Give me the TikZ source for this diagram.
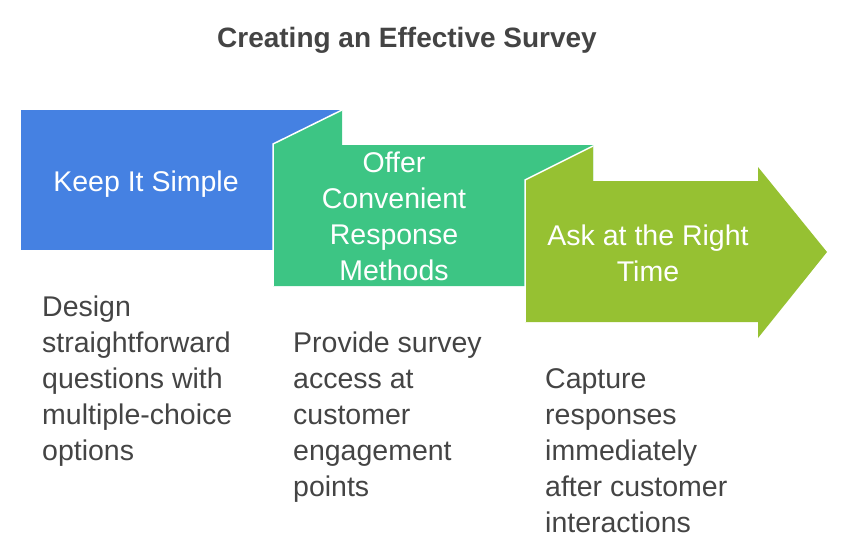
\documentclass[tikz,border=0pt]{standalone}
\usepackage{fontspec}
\setmainfont{Liberation Sans}
\usetikzlibrary{positioning}

\definecolor{simpleblue}{HTML}{4581E2}
\definecolor{offergreen}{HTML}{3DC584}
\definecolor{askolive}{HTML}{96C132}
\definecolor{desctext}{HTML}{444444}

\begin{document}
\begin{tikzpicture}[x=1pt,y=-1pt,
  fold/.style={draw=white,line width=1.5pt,line join=miter},
  steplabel/.style={text=white,font=\fontsize{28.5}{36}\selectfont,align=center,inner sep=0pt,anchor=base},
  desc/.style={text=desctext,font=\fontsize{28.5}{36}\selectfont,align=left,inner sep=0pt,anchor=base west}]

\useasboundingbox (0,0) rectangle (850,558);

% ============================================================
% TITLE
% ============================================================

\node[text=desctext,font=\fontsize{28}{34}\selectfont\bfseries,anchor=base] (title) at (407,47) {Creating an Effective Survey};

% ============================================================
% 1. KEEP IT SIMPLE (blue)
% ============================================================

\fill[simpleblue] (21,110) rectangle (342,250);
\node[steplabel] (simple) at (146,191) {Keep It Simple};

% ============================================================
% 2. OFFER CONVENIENT RESPONSE METHODS (green)
% ============================================================

\fill[offergreen] (273,286) -- (273,144) -- (342,110) -- (342,145)
  -- (593,145) -- (593,286) -- cycle;
\draw[fold] (273,286) -- (273,144) -- (342,110);
% base = last line
\node[steplabel] (offer) at (394,280) {Offer\\Convenient\\Response\\Methods};

% ============================================================
% 3. ASK AT THE RIGHT TIME (olive arrow)
% ============================================================

\fill[askolive] (525,322) -- (525,180) -- (593,146) -- (593,181)
  -- (758,181) -- (758,167) -- (827,252) -- (758,338) -- (758,322) -- cycle;
\draw[fold] (525,322) -- (525,180) -- (593,146);
\node[steplabel] (ask) at (648,281) {Ask at the Right\\Time};

% ============================================================
% DESCRIPTIONS (base = last line)
% ============================================================

\node[desc] (simpledesc) at (42,460) {Design\\straightforward\\questions with\\multiple-choice\\options};
\node[desc] (offerdesc) at (293,496) {Provide survey\\access at\\customer\\engagement\\points};
\node[desc] (askdesc) at (545,532) {Capture\\responses\\immediately\\after customer\\interactions};

\end{tikzpicture}
\end{document}
